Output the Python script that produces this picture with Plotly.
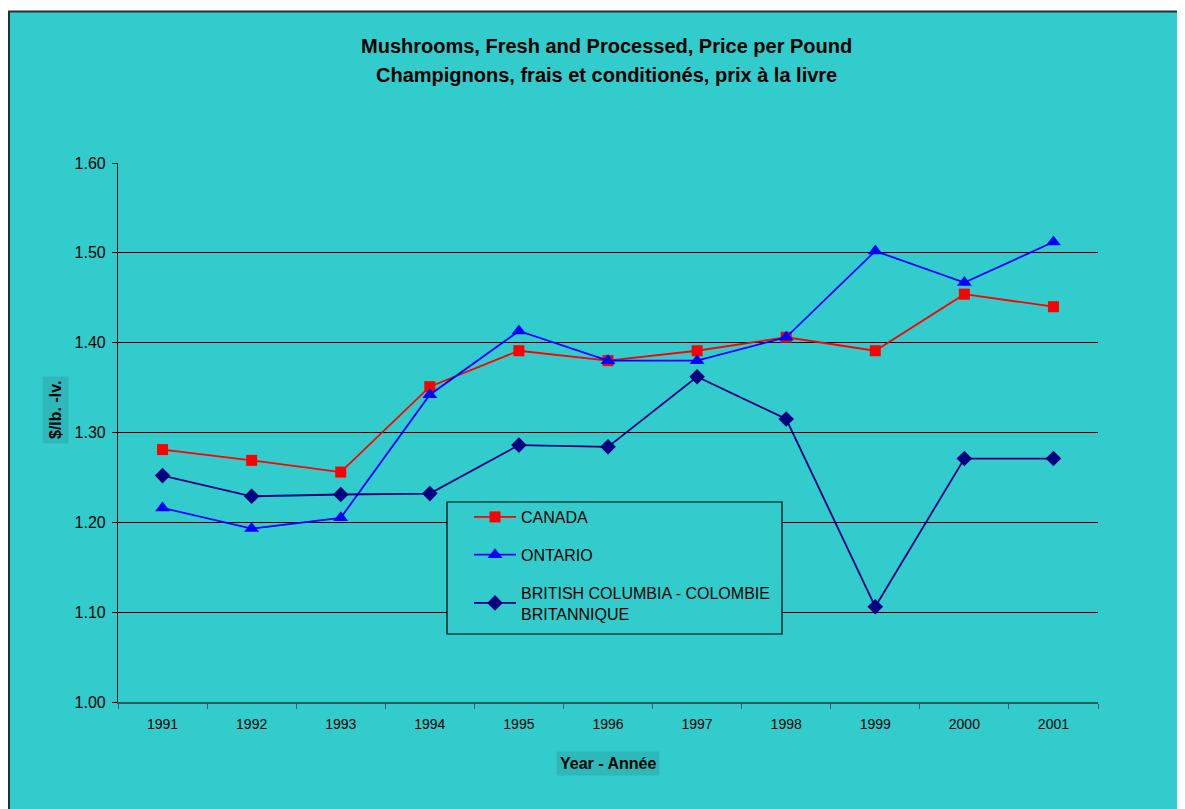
import plotly.graph_objects as go

years = ["1991", "1992", "1993", "1994", "1995", "1996", "1997", "1998", "1999", "2000", "2001"]
canada = [1.281, 1.269, 1.256, 1.351, 1.391, 1.380, 1.391, 1.406, 1.391, 1.454, 1.440]
ontario = [1.216, 1.193, 1.205, 1.342, 1.413, 1.380, 1.380, 1.406, 1.502, 1.467, 1.512]
bc = [1.252, 1.229, 1.231, 1.232, 1.286, 1.284, 1.362, 1.315, 1.106, 1.271, 1.271]

TEAL = "#33CCCC"
FONT = "Liberation Sans, Arial, sans-serif"

OFF = 8  # page body margin
FW, FH = 1185 - OFF, 809 - OFF
# plot area in screen pixels: x 118..1098, y 163..702
L, R, T, B = 118, 1098, 163, 702
W, H = R - L, B - T
def px(x): return (x - L) / W
def py(y): return (B - y) / H

fig = go.Figure()
fig.add_trace(go.Scatter(x=years, y=canada, name="CANADA", mode="lines+markers",
                         line=dict(color="#FF0000", width=1.8),
                         marker=dict(symbol="square", size=11, color="#FF0000"),
                         legendgroup="a"))
fig.add_trace(go.Scatter(x=years, y=ontario, name="ONTARIO", mode="lines+markers",
                         line=dict(color="#0000FF", width=1.8),
                         marker=dict(symbol="triangle-up", size=13, color="#0000FF"),
                         legendgroup="b"))
fig.add_trace(go.Scatter(x=years, y=bc, name="BRITISH COLUMBIA - COLOMBIE<br>BRITANNIQUE",
                         mode="lines+markers",
                         line=dict(color="#000080", width=1.8),
                         marker=dict(symbol="diamond", size=12, color="#000080"),
                         legendgroup="c"))

shapes = [
    dict(type="rect", xref="paper", yref="paper", x0=px(9), x1=px(1200), y0=py(830), y1=py(11.5),
         fillcolor=TEAL, line=dict(color="#1E3333", width=2), layer="below"),
    dict(type="rect", xref="paper", yref="paper", x0=px(447), x1=px(782), y0=py(634), y1=py(502),
         fillcolor=TEAL, line=dict(color="black", width=1.2), layer="above"),
]

annotations = [
    dict(text="<b>Mushrooms, Fresh and Processed, Price per Pound</b>", xref="paper", yref="paper",
         x=px(606), y=py(46), xanchor="center", yanchor="middle", showarrow=False,
         font=dict(family=FONT, size=20, color="black")),
    dict(text="<b>Champignons, frais et conditionés, prix à la livre</b>", xref="paper", yref="paper",
         x=px(606), y=py(75), xanchor="center", yanchor="middle", showarrow=False,
         font=dict(family=FONT, size=20, color="black")),
    dict(text="<b>$/lb. -lv.</b>", xref="paper", yref="paper", x=px(55), y=py(410),
         xanchor="center", yanchor="middle", textangle=-90, showarrow=False,
         bgcolor="#2DB9B9", borderpad=4,
         font=dict(family=FONT, size=16, color="black")),
    dict(text="<b>Year - Année</b>", xref="paper", yref="paper", x=px(608), y=py(763),
         xanchor="center", yanchor="middle", showarrow=False,
         bgcolor="#2DB9B9", borderpad=3,
         font=dict(family=FONT, size=16, color="black")),
]

fig.update_layout(
    width=FW, height=FH,
    margin=dict(l=L - OFF, r=1185 - R, t=T - OFF, b=809 - B),
    paper_bgcolor="white",
    plot_bgcolor="rgba(0,0,0,0)",
    font=dict(family=FONT, size=15, color="black"),
    showlegend=True,
    legend=dict(x=px(469), y=py(500), xanchor="left", yanchor="top",
                bgcolor="rgba(0,0,0,0)", borderwidth=0,
                font=dict(family=FONT, size=16, color="black"),
                tracegroupgap=14, itemwidth=42),
    shapes=shapes,
    annotations=annotations,
    xaxis=dict(type="category", range=[-0.5, 10.5], showgrid=False,
               showline=True, linecolor="#2A5C5C", linewidth=2,
               ticks="outside", tickson="boundaries", ticklen=5, tickcolor="#2A5C5C",
               ticklabelstandoff=8, zeroline=False,
               tickfont=dict(family=FONT, size=14, color="black")),
    yaxis=dict(range=[1.0, 1.6], dtick=0.1, tickformat=".2f",
               showgrid=True, gridcolor="black", gridwidth=1,
               showline=True, linecolor="black", linewidth=1.2,
               ticks="outside", ticklen=5, tickcolor="black", zeroline=False,
               ticklabelstandoff=3,
               tickfont=dict(family=FONT, size=16, color="black")),
)

fig.write_html("out.html")
